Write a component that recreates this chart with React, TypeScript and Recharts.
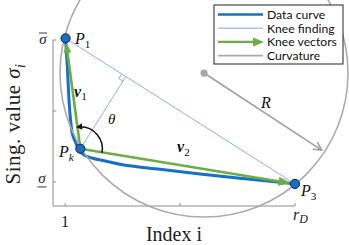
import React from 'react';
import { ComposedChart, Line, XAxis, YAxis, ReferenceLine, ReferenceDot } from 'recharts';

// data curve (singular values vs index)
const curveX = [1.04, 1.2, 1.32, 1.45, 1.57, 1.82, 2.11, 2.48, 3.22, 4.13, 5.54, 8.84, 12.15, 15.45, 18.76, 20];
const curveY = [1.01, 0.819, 0.639, 0.518, 0.446, 0.392, 0.343, 0.313, 0.289, 0.274, 0.251, 0.221, 0.193, 0.167, 0.143, 0.133];
const curveData = curveX.map((x, i) => ({ x, y: curveY[i] }));

// knee points
const p1 = { x: 1.04, y: 1.01 };
const pk = { x: 2.26, y: 0.345 };
const p3 = { x: 20, y: 0.133 };
const foot = { x: 6.0, y: 0.777 };

// curvature circle
const circleCenter = { x: 12.48, y: 0.801 };
const circleRadius = 144;
const radiusTip = { x: 22.2, y: 0.337 };

const xTicks = [1, 10.5, 20];
const xTickLabels = ['1', '', 'r_D'];
const yTicks = [0.145, 0.572, 1];
const yTickLabels = ['low', '', 'high'];

const legendLabels = ['Data curve', 'Knee finding', 'Knee vectors', 'Curvature'];

const BLUE = '#1470c8';
const LIGHT_BLUE = '#7fa6e8';
const GREEN = '#6cad45';
const GRAY = '#ababab';
const AXIS = '#8c8c8c';
const SERIF = 'Liberation Serif';

const arrow = (x1: number, y1: number, x2: number, y2: number, color: string, w: number, len: number, half: number, back = 0) => {
  const dx = x2 - x1;
  const dy = y2 - y1;
  const L = Math.hypot(dx, dy);
  const ux = dx / L;
  const uy = dy / L;
  const tx = x2 - ux * back;
  const ty = y2 - uy * back;
  const bx = tx - ux * len;
  const by = ty - uy * len;
  return (
    <g>
      <line x1={x1} y1={y1} x2={bx + ux} y2={by + uy} stroke={color} strokeWidth={w} />
      <polygon
        points={`${tx},${ty} ${bx - uy * half},${by + ux * half} ${bx + uy * half},${by - ux * half}`}
        fill={color}
      />
    </g>
  );
};

const XTick = (props: any) => {
  const { x, y, payload } = props;
  const label = xTickLabels[xTicks.indexOf(payload.value)];
  return (
    <g>
      <line x1={x} y1={y} x2={x} y2={y - 3} stroke={AXIS} />
      {label === '1' && (
        <text x={x} y={y + 21} textAnchor="middle" fontFamily={SERIF} fontSize={16} fill="#222">1</text>
      )}
      {label === 'r_D' && (
        <text x={x - 2} y={y + 14} fontFamily={SERIF} fontStyle="italic" fontSize={16} fill="#222">
          r<tspan fontSize={12} dy={3}>D</tspan>
        </text>
      )}
    </g>
  );
};

const YTick = (props: any) => {
  const { x, y, payload } = props;
  const label = yTickLabels[yTicks.indexOf(payload.value)];
  return (
    <g>
      <line x1={x} y1={y} x2={x + 3} y2={y} stroke={AXIS} />
      {label === 'high' && (
        <g>
          <text x={43} y={y + 3.5} textAnchor="middle" fontFamily={SERIF} fontStyle="italic" fontSize={15} fill="#222">σ</text>
          <line x1={39} y1={y - 7} x2={47} y2={y - 7} stroke="#222" strokeWidth={0.9} />
        </g>
      )}
      {label === 'low' && (
        <g>
          <text x={42} y={y + 1.5} textAnchor="middle" fontFamily={SERIF} fontStyle="italic" fontSize={15} fill="#222">σ</text>
          <line x1={37.5} y1={y + 5} x2={46.5} y2={y + 5} stroke="#222" strokeWidth={0.9} />
        </g>
      )}
    </g>
  );
};

const mathText = (main: string, sub: string, size: number, opts: { bold?: boolean; subItalic?: boolean } = {}) => (cx: number, cy: number) => (
  <text x={cx} y={cy} fontFamily={SERIF} fontStyle="italic" fontWeight={opts.bold ? 'bold' : 'normal'} fontSize={size} fill="#111">
    {main}
    {sub && (
      <tspan fontSize={size * 0.7} dy={size * 0.22} fontStyle={opts.subItalic ? 'italic' : 'normal'} fontWeight="normal">
        {sub}
      </tspan>
    )}
  </text>
);

// text annotations placed in data units (baseline start)
const annotations = [
  { x: 1.82, y: 0.976, render: mathText('P', '1', 16) },
  { x: 1.74, y: 0.657, render: mathText('v', '1', 16, { bold: true }) },
  { x: 0.5, y: 0.295, render: mathText('P', 'k', 16, { subItalic: true }) },
  { x: 10.25, y: 0.325, render: mathText('v', '2', 16, { bold: true }) },
  { x: 20.5, y: 0.06, render: mathText('P', '3', 16) },
  { x: 17.2, y: 0.59, render: mathText('R', '', 16) },
  { x: 4.55, y: 0.494, render: mathText('θ', '', 15) },
];

const thetaArc = (props: any) => {
  const { cx, cy } = props;
  const r = 22;
  const a0 = (11 * Math.PI) / 180;
  const a1 = (-92 * Math.PI) / 180;
  const aTip = (-101 * Math.PI) / 180;
  const sx = cx + r * Math.cos(a0);
  const sy = cy + r * Math.sin(a0);
  const ex = cx + r * Math.cos(a1);
  const ey = cy + r * Math.sin(a1);
  const tx = cx + r * Math.cos(aTip);
  const ty = cy + r * Math.sin(aTip);
  return (
    <g>
      <path d={`M${sx},${sy} A${r},${r} 0 0 0 ${ex},${ey}`} fill="none" stroke="#111" strokeWidth={1.5} />
      {arrow(ex, ey, tx, ty, '#111', 0.1, 6, 3.2)}
    </g>
  );
};

const perpShape = (props: any) => {
  const { x1, y1, x2, y2 } = props;
  // x1,y1 = knee point, x2,y2 = foot on the P1-P3 line
  const L = Math.hypot(x1 - x2, y1 - y2);
  const dx = (x1 - x2) / L;
  const dy = (y1 - y2) / L;
  const ex = -dy;
  const ey = dx;
  const s = 5;
  return (
    <g>
      <line x1={x1} y1={y1} x2={x2} y2={y2} stroke={LIGHT_BLUE} strokeWidth={0.9} />
      <polyline
        points={`${x2 + s * dx},${y2 + s * dy} ${x2 + s * dx + s * ex},${y2 + s * dy + s * ey} ${x2 + s * ex},${y2 + s * ey}`}
        fill="none"
        stroke={LIGHT_BLUE}
        strokeWidth={0.9}
      />
    </g>
  );
};

const radiusShape = (props: any) => {
  const { x1, y1, x2, y2 } = props;
  const a = Math.atan2(y2 - y1, x2 - x1);
  const len = 9;
  const spread = (28 * Math.PI) / 180;
  const ax = x2 - len * Math.cos(a - spread);
  const ay = y2 - len * Math.sin(a - spread);
  const bx = x2 - len * Math.cos(a + spread);
  const by = y2 - len * Math.sin(a + spread);
  return (
    <g>
      <line x1={x1} y1={y1} x2={x2} y2={y2} stroke="#a0a0a0" strokeWidth={1.6} />
      <polyline points={`${ax},${ay} ${x2},${y2} ${bx},${by}`} fill="none" stroke="#a0a0a0" strokeWidth={1.6} />
    </g>
  );
};

const vectorShape = (len: number, half: number) => (props: any) => {
  const { x1, y1, x2, y2 } = props;
  return arrow(x1, y1, x2, y2, GREEN, 2.6, len, half, 4.5);
};

const Legend = () => (
  <svg width={132} height={62} style={{ position: 'absolute', left: 213, top: 4 }}>
    <rect x={1} y={1} width={129} height={59} fill="#fff" stroke="#222" strokeWidth={1} />
    {legendLabels.map((label, i) => {
      const cy = 10.5 + i * 13.7;
      return (
        <g key={label}>
          {i === 0 && <line x1={5} y1={cy} x2={50} y2={cy} stroke={BLUE} strokeWidth={2.6} />}
          {i === 1 && <line x1={5} y1={cy} x2={50} y2={cy} stroke={LIGHT_BLUE} strokeWidth={1} />}
          {i === 2 && arrow(5, cy, 51, cy, GREEN, 2.4, 11, 4.5)}
          {i === 3 && <line x1={5} y1={cy} x2={50} y2={cy} stroke={GRAY} strokeWidth={1.6} />}
          <text x={54} y={cy + 4.3} fontFamily="Lato" fontSize={12.2} fill="#111">{label}</text>
        </g>
      );
    })}
  </svg>
);

export default function App() {
  return (
    <div style={{ position: 'absolute', left: 0, top: 0, width: 349, height: 245, background: '#fff' }}>
      <ComposedChart width={349} height={245} data={curveData} margin={{ top: 40, right: 54, bottom: 0, left: 0 }}>
        <XAxis
          type="number"
          dataKey="x"
          domain={[0, 20]}
          ticks={xTicks}
          interval={0}
          allowDataOverflow
          height={39}
          tickSize={0}
          tickMargin={0}
          tickLine={false}
          tick={<XTick />}
          axisLine={{ stroke: AXIS }}
          label={(p: any) => {
            const vb = p.viewBox;
            return (
              <text x={vb.x + vb.width / 2} y={vb.y + 35} textAnchor="middle" fontFamily={SERIF} fontSize={20} fill="#222">
                Index i
              </text>
            );
          }}
        />
        <YAxis
          type="number"
          domain={[0, 1]}
          ticks={yTicks}
          interval={0}
          allowDataOverflow
          width={53}
          tickSize={0}
          tickMargin={0}
          tickLine={false}
          tick={<YTick />}
          axisLine={{ stroke: AXIS }}
          label={(p: any) => {
            const vb = p.viewBox;
            const cx = vb.x + vb.width - 33;
            const cy = vb.y + vb.height / 2 + 1;
            return (
              <text
                x={cx}
                y={cy}
                textAnchor="middle"
                transform={`rotate(-90 ${cx} ${cy})`}
                fontFamily={SERIF}
                fontSize={21}
                letterSpacing={0.5}
                fill="#222"
              >
                Sing. value <tspan fontStyle="italic">σ</tspan>
                <tspan fontStyle="italic" fontSize={14} dy={5}>i</tspan>
              </text>
            );
          }}
        />

        <ReferenceDot
          x={circleCenter.x}
          y={circleCenter.y}
          r={circleRadius}
          fill="none"
          stroke={GRAY}
          strokeWidth={1.6}
          ifOverflow="visible"
        />
        <ReferenceDot x={circleCenter.x} y={circleCenter.y} r={3.6} fill="#a6a6a6" stroke="none" ifOverflow="visible" />
        <ReferenceLine segment={[circleCenter, radiusTip]} ifOverflow="visible" shape={radiusShape} />

        <ReferenceLine segment={[p1, p3]} stroke={LIGHT_BLUE} strokeWidth={0.9} ifOverflow="visible" />
        <ReferenceLine segment={[pk, foot]} ifOverflow="visible" shape={perpShape} />

        <Line
          type="monotone"
          dataKey="y"
          stroke={BLUE}
          strokeWidth={3}
          dot={false}
          activeDot={false}
          isAnimationActive={false}
        />

        <ReferenceLine segment={[pk, p1]} ifOverflow="visible" shape={vectorShape(10, 4)} />
        <ReferenceLine segment={[pk, p3]} ifOverflow="visible" shape={vectorShape(12, 4.5)} />
        <ReferenceDot x={pk.x} y={pk.y} r={0} ifOverflow="visible" shape={thetaArc} />

        {[p1, pk, p3].map((p, i) => (
          <ReferenceDot key={i} x={p.x} y={p.y} r={4.6} fill={BLUE} stroke="#0d2340" strokeWidth={1} ifOverflow="visible" />
        ))}

        {annotations.map((a, i) => (
          <ReferenceDot
            key={`a${i}`}
            x={a.x}
            y={a.y}
            r={0}
            ifOverflow="visible"
            shape={(p: any) => a.render(p.cx, p.cy)}
          />
        ))}
      </ComposedChart>
      <Legend />
    </div>
  );
}
